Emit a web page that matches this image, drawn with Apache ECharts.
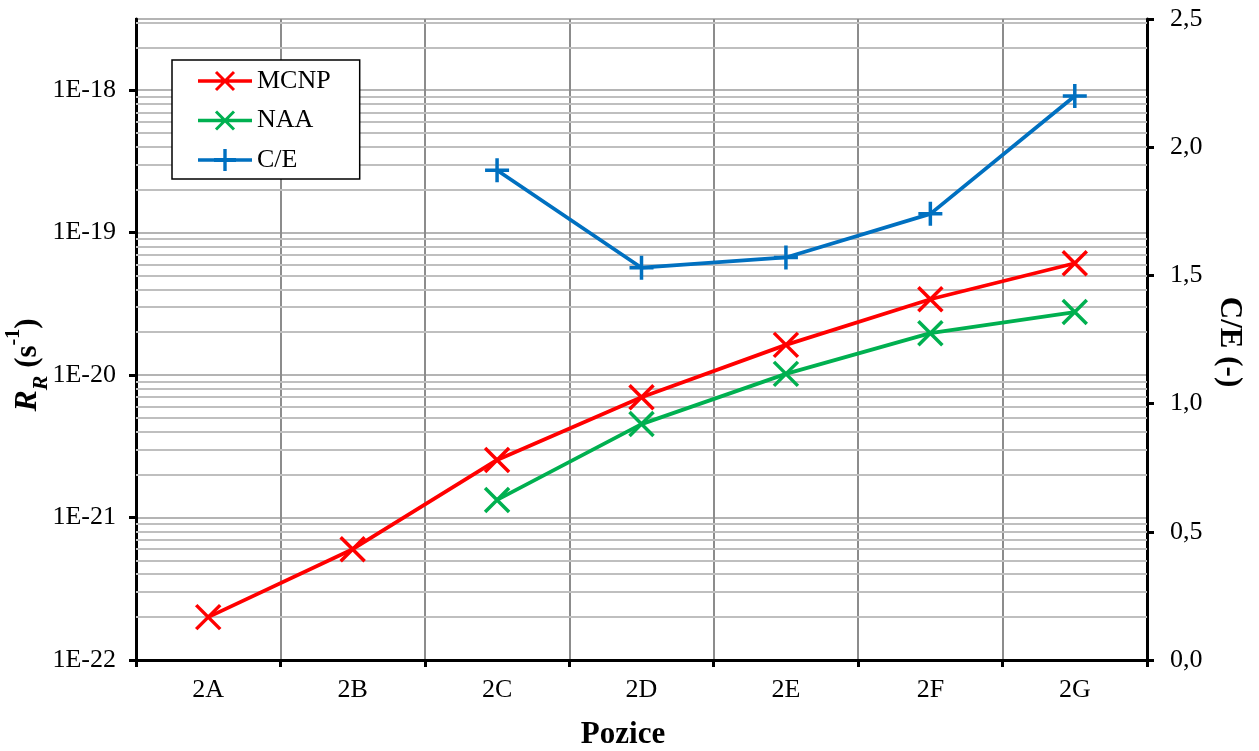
<!DOCTYPE html>
<html>
<head>
<meta charset="utf-8">
<script src="https://cdn.jsdelivr.net/npm/echarts@6/dist/echarts.min.js"></script>
<style>
  html, body { margin: 0; padding: 0; background: #fff; }
  #chart { width: 1259px; height: 751px; }
</style>
</head>
<body>
<div id="chart"></div>
<script>
// Measurement positions
const categories = ['2A', '2B', '2C', '2D', '2E', '2F', '2G'];
// Reaction rates R_R (s^-1)
const mcnp = [2.0e-22, 6.0e-22, 2.54e-21, 7.0e-21, 1.63e-20, 3.41e-20, 6.1e-20];
const naa  = [null, null, 1.33e-21, 4.53e-21, 1.02e-20, 1.97e-20, 2.77e-20];
// Calculated / experimental ratio
const ce   = [null, null, 1.91, 1.53, 1.57, 1.74, 2.20];

// The log axis works in units of 1E-22 s^-1 (avoids tiny-number rounding in the scale)
const UNIT_EXP = -22;
const UNIT = Math.pow(10, UNIT_EXP);
const toUnit = arr => arr.map(v => (v == null ? '-' : v / UNIT));

// Log axis range: 1E-22 .. 10^-17.5
const logMin = 1;
const logMax = Math.pow(10, 4.5);
const ceMin = 0, ceMax = 2.5, ceStep = 0.5;

const FONT = 'Liberation Serif';

// Minor grid lines at 2..9 x 10^n inside the log range
const minorLines = [];
for (let e = 0; e <= 4; e++) {
  for (let k = 2; k <= 9; k++) {
    const v = k * Math.pow(10, e);
    if (v < logMax) minorLines.push({ yAxis: v });
  }
}

// Plot markers (stroked)
const crossPath = 'path://M0,0L10,10M10,0L0,10';
const plusPath = 'path://M5,0L5,10M0,5L10,5';

// Legend icons: a line segment with the marker in its middle (filled outlines, 54 x 24 box)
const legendLine = 'M0,10.3L54,10.3L54,13.7L0,13.7Z';
const legendCross = legendLine +
  'M19.06,1.94L37.06,19.94L34.94,22.06L16.94,4.06Z' +
  'M37.06,4.06L19.06,22.06L16.94,19.94L34.94,1.94Z';
const legendPlus = legendLine + 'M25.3,1L28.7,1L28.7,23L25.3,23Z' + 'M16,10L38,10L38,14L16,14Z';

const chart = echarts.init(document.getElementById('chart'), null, { renderer: 'canvas' });

chart.setOption({
  animation: false,
  backgroundColor: '#ffffff',
  textStyle: { fontFamily: FONT },
  grid: {
    left: 136, right: 112, top: 19, bottom: 91,
    show: true, borderColor: '#000', borderWidth: 2, backgroundColor: 'transparent'
  },
  legend: {
    orient: 'vertical',
    left: 172, top: 60,
    z: 10,
    backgroundColor: '#fff',
    borderColor: '#000',
    borderWidth: 1.5,
    padding: [8, 29, 6, 26],
    itemGap: 13.5,
    itemWidth: 54,
    itemHeight: 24,
    itemStyle: { borderWidth: 0 },
    textStyle: { fontFamily: FONT, fontSize: 26, color: '#000', padding: [0, 0, 0, 0] },
    data: [
      { name: 'MCNP', icon: 'path://' + legendCross },
      { name: 'NAA', icon: 'path://' + legendCross },
      { name: 'C/E', icon: 'path://' + legendPlus }
    ]
  },
  xAxis: {
    type: 'category',
    data: categories,
    boundaryGap: true,
    axisLine: { lineStyle: { color: '#000', width: 3 } },
    axisTick: { show: true, length: 7, lineStyle: { color: '#000', width: 3 } },
    axisLabel: { fontFamily: FONT, fontSize: 26, color: '#000', margin: 17 },
    splitLine: { show: true, lineStyle: { color: '#8c8c8c', width: 2 } }
  },
  yAxis: [
    {
      type: 'log',
      logBase: 10,
      min: logMin,
      max: logMax,
      interval: 1,
      axisLine: { show: true, lineStyle: { color: '#000', width: 3 } },
      axisTick: { show: true, length: 7, lineStyle: { color: '#000', width: 3 } },
      axisLabel: {
        fontFamily: FONT, fontSize: 26, color: '#000', margin: 20,
        showMaxLabel: false,
        formatter: v => '1E' + (Math.round(Math.log10(v)) + UNIT_EXP)
      },
      splitLine: { show: true, lineStyle: { color: '#b4b4b4', width: 2 } }
    },
    {
      type: 'value',
      min: ceMin,
      max: ceMax,
      interval: ceStep,
      position: 'right',
      axisLine: { show: true, lineStyle: { color: '#000', width: 3 } },
      axisTick: { show: true, length: 7, lineStyle: { color: '#000', width: 3 } },
      axisLabel: {
        fontFamily: FONT, fontSize: 26, color: '#000', margin: 23,
        formatter: v => v.toFixed(1).replace('.', ',')
      },
      splitLine: { show: false }
    }
  ],
  graphic: [
    {
      type: 'text',
      x: 623, y: 735,
      style: {
        text: 'Pozice',
        font: 'bold 31px "Liberation Serif"',
        fill: '#000',
        align: 'center',
        verticalAlign: 'middle'
      }
    },
    {
      type: 'text',
      x: 1229, y: 342,
      rotation: -Math.PI / 2,
      style: {
        text: 'C/E (-)',
        font: 'bold 31px "Liberation Serif"',
        fill: '#000',
        align: 'center',
        verticalAlign: 'middle'
      }
    },
    {
      type: 'text',
      x: 28, y: 365,
      rotation: Math.PI / 2,
      style: {
        text: '{r|R}{sub|R}{n| (s}{sup|-1}{n|)}',
        align: 'center',
        verticalAlign: 'middle',
        fill: '#000',
        rich: {
          r: { font: 'italic bold 32px "Liberation Serif"', fill: '#000', verticalAlign: 'middle' },
          sub: { font: 'italic bold 22px "Liberation Serif"', fill: '#000', verticalAlign: 'bottom', lineHeight: 48 },
          n: { font: 'bold 31px "Liberation Serif"', fill: '#000', verticalAlign: 'middle' },
          sup: { font: 'bold 20px "Liberation Serif"', fill: '#000', verticalAlign: 'top', lineHeight: 48 }
        }
      }
    }
  ],
  series: [
    {
      name: 'minor-grid',
      type: 'line',
      yAxisIndex: 0,
      data: [],
      silent: true,
      z: 1,
      markLine: {
        silent: true,
        z: 1,
        symbol: ['none', 'none'],
        label: { show: false },
        lineStyle: { color: '#bfbfbf', width: 2, type: 'solid' },
        data: minorLines
      }
    },
    {
      name: 'MCNP',
      type: 'line',
      yAxisIndex: 0,
      data: toUnit(mcnp),
      z: 6,
      symbol: crossPath,
      symbolSize: 24,
      lineStyle: { color: '#ff0000', width: 3.8 },
      itemStyle: { color: '#ff0000', borderColor: '#ff0000', borderWidth: 3.5 }
    },
    {
      name: 'NAA',
      type: 'line',
      yAxisIndex: 0,
      data: toUnit(naa),
      z: 5,
      symbol: crossPath,
      symbolSize: 24,
      lineStyle: { color: '#00b050', width: 3.8 },
      itemStyle: { color: '#00b050', borderColor: '#00b050', borderWidth: 3.5 }
    },
    {
      name: 'C/E',
      type: 'line',
      yAxisIndex: 1,
      data: ce,
      z: 5,
      symbol: plusPath,
      symbolSize: 24,
      lineStyle: { color: '#0070c0', width: 3.8 },
      itemStyle: { color: '#0070c0', borderColor: '#0070c0', borderWidth: 3.5 }
    }
  ]
});
</script>
</body>
</html>
